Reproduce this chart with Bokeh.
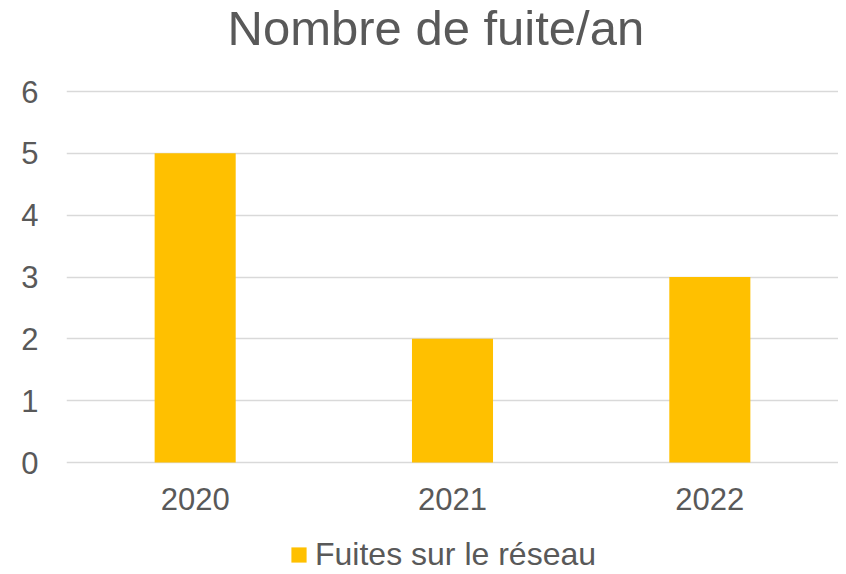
from bokeh.plotting import figure
from bokeh.models import Range1d, FactorRange, Legend, LegendItem, FixedTicker, ColumnDataSource
from bokeh.core.properties import value
from bokeh.embed import file_html
from bokeh.resources import INLINE

years = ["2020", "2021", "2022"]
fuites = [5, 2, 3]
series_name = "Fuites sur le réseau"
title_text = "Nombre de fuite/an"
y_ticks = [0, 1, 2, 3, 4, 5, 6]

FONT = "Liberation Sans"
TXT = "#595959"
GRID = "#D9D9D9"
BAR = "#FFC000"

# layout (pixels)
TOP, BASE, PX_PER_UNIT, H = 56, 462, 371 / 6, 574

src = ColumnDataSource(dict(x=years, top=fuites))
lab = ColumnDataSource(dict(x=years, y=[0] * len(years), t=years))

p = figure(width=838, height=H, frame_width=772, frame_height=H - TOP,
           x_range=FactorRange(*years, range_padding=0),
           y_range=Range1d(-(H - BASE) / PX_PER_UNIT, (BASE - TOP) / PX_PER_UNIT),
           output_backend="svg", toolbar_location=None,
           title=title_text, min_border_left=66, min_border_right=0,
           min_border_top=TOP, min_border_bottom=0)

r = p.vbar(x="x", top="top", width=0.315, source=src, fill_color=BAR, line_color=None)

# category labels under the baseline
p.text(x="x", y="y", text="t", source=lab, text_align="center", text_baseline="alphabetic",
       y_offset=36, text_font=value(FONT), text_font_size=value("31px"), text_color=TXT)

p.title.text_font = FONT
p.title.text_font_size = "49px"
p.title.text_font_style = "normal"
p.title.text_color = TXT
p.title.align = "left"
p.title.offset = 161
p.title.vertical_align = "top"
p.title.standoff = 0

p.outline_line_color = None
p.background_fill_color = "white"
p.border_fill_color = "white"

p.yaxis.ticker = FixedTicker(ticks=y_ticks)
p.yaxis.axis_line_color = None
p.yaxis.major_tick_line_color = None
p.yaxis.minor_tick_line_color = None
p.yaxis.major_label_text_font = FONT
p.yaxis.major_label_text_font_size = "31px"
p.yaxis.major_label_text_color = TXT
p.yaxis.major_label_standoff = 22

p.xaxis.visible = False

p.xgrid.grid_line_color = None
p.ygrid.ticker = FixedTicker(ticks=y_ticks)
p.ygrid.grid_line_color = GRID
p.ygrid.grid_line_width = 1.5

legend = Legend(items=[LegendItem(label=series_name, renderers=[r])],
                orientation="horizontal", location=(223, 1),
                border_line_color=None, background_fill_alpha=0,
                glyph_width=19, glyph_height=19, label_standoff=7,
                label_text_font=FONT, label_text_font_size="32px",
                label_text_color=TXT, padding=0, margin=0)
p.add_layout(legend, "center")

open("out.html", "w").write(file_html(p, INLINE))
